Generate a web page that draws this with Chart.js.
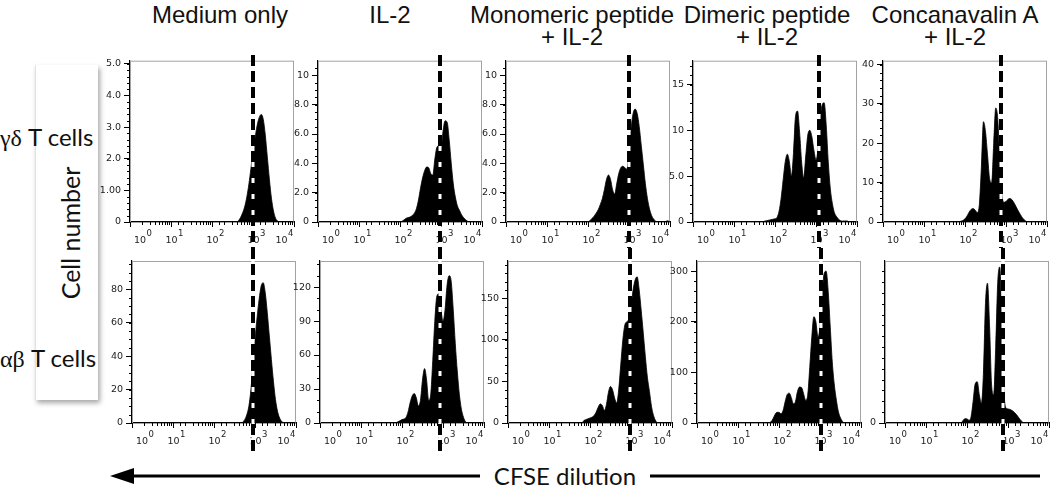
<!DOCTYPE html>
<html>
<head>
<meta charset="utf-8">
<script src="https://cdn.jsdelivr.net/npm/chart.js@4.4.1/dist/chart.umd.min.js"></script>
<style>
  body { margin: 0; width: 1050px; height: 490px; overflow: hidden; background: #fff; position: relative; }
  canvas { position: absolute; }
  .title { position: absolute; top: 4px; width: 240px; margin-left: -120px; text-align: center;
           font-family: "Liberation Sans", Arial, sans-serif; font-size: 24px; line-height: 22px; color: #111; }
  .cellbox { position: absolute; left: 35px; top: 65px; width: 62px; height: 335px; background: #fff;
             border-left: 1px solid #e2e2e2; box-shadow: 2px 3px 5px rgba(0,0,0,.35); }
  .rowlab { position: absolute; left: 0; font-family: Lato, "Open Sans", sans-serif; font-size: 24px; line-height: 28px; color: #111; white-space: nowrap; }
  .rowlab .gr { font-family: "Liberation Serif", serif; }
  .ylab { position: absolute; left: -30px; top: 219px; width: 200px; text-align: center; transform: rotate(-90deg);
          font-family: Lato, "Open Sans", sans-serif; font-size: 25px; line-height: 28px; color: #111; }
  .xlab { position: absolute; left: 480px; top: 461px; width: 170px; text-align: center; background: #fff;
          font-family: Lato, "Open Sans", sans-serif; font-size: 24px; line-height: 30px; color: #111; }
  svg { position: absolute; left: 0; top: 460px; }
</style>
</head>
<body>
<div class="cellbox"></div>
<svg width="1050" height="32">
  <line x1="128" y1="16" x2="1040" y2="16" stroke="#000" stroke-width="3"/>
  <polygon points="110,16 134,8 134,24" fill="#000"/>
</svg>
<script>
// CFSE channel (log bins) shared by all histograms
const cfse = [50, 56, 63, 71, 79, 89, 100, 112, 126, 141, 158, 178, 200, 224, 251, 282, 316, 355, 398, 447,
  501, 562, 631, 708, 794, 891, 1000, 1122, 1259, 1413, 1585, 1778, 1995, 2239, 2512, 2818, 3162, 3548,
  3981, 4467, 5012, 5623, 6310, 7079, 7943, 8913, 10000];

const conditions = [['Medium only'], ['IL-2'], ['Monomeric peptide', '+ IL-2'], ['Dimeric peptide', '+ IL-2'], ['Concanavalin A', '+ IL-2']];
const cellTypes = [['γδ', ' T cells'], ['αβ', ' T cells']];
const yTitle = 'Cell number';
const xTitle = 'CFSE dilution';

// gamma-delta T cells (top row)
const gdMedium = [0,0,0,0,0,0,0,0,0,0,0,0,0,0,0,0,0,0,
  0,0.05,0.15,0.3,0.5,0.8,1.2,1.7,2.2,2.65,3.05,3.3,3.4,3.25,2.75,2.05,1.35,0.75,0.35,0.12,0.03,
  0,0,0,0,0,0,0,0];
const gdIl2 = [0,0,0,0,0,0,
  0,0.05,0.15,0.25,0.3,0.35,0.45,0.6,0.9,1.5,2.3,3.0,3.5,3.75,3.7,3.3,3.2,4.3,5.1,5.2,
  4.9,6.2,6.9,6.8,5.6,4.0,2.6,1.7,1.1,0.8,0.5,0.3,0.15,0.05,0,
  0,0,0,0,0,0];
const gdMono = [0,0,0,0,0,0,
  0,0.1,0.25,0.4,0.6,0.85,1.2,1.6,2.2,2.9,3.2,2.9,2.2,1.9,2.6,3.3,3.7,3.8,3.7,3.6,
  4.8,6.4,7.4,7.7,7.4,6.5,5.2,3.9,2.6,1.6,0.9,0.45,0.2,0.05,0,
  0,0,0,0.05,0.08,0];
const gdDimer = [0,0.1,0.15,0.2,0.25,0.3,
  0.35,0.5,1.2,2.6,4.6,6.6,7.4,6.6,5.0,7.5,11.5,12.1,9.8,6.5,4.8,7.2,9.5,10.0,9.3,7.8,
  6.8,8.0,11.0,12.8,13.0,10.5,6.5,3.6,2.0,1.0,0.6,0.3,0.15,0.1,0.12,0.12,0.05,0,0,0,
  0];
const gdConA = [0,0,0,0,0.2,0.4,
  0.8,1.5,2.5,3.2,3.4,3.0,2.4,4.5,14,25.5,23,17,11,10,20,29,26,15,7,5,
  5.2,5.8,6.0,5.6,4.8,3.8,2.8,1.9,1.1,0.5,0.15,0,
  0,0,0,0,0,0,0,0,0];

// alpha-beta T cells (bottom row)
const abMedium = [0,0,0,0,0,0,0,0,0,0,0,0,0,0,0,0,0,0,0,
  0,0.5,2,5,10,20,35,50,63,74,82,84,78,66,52,38,25,14,7,3,1,0,
  0,0,0,0,0,0];
const abIl2 = [0,0,0,0,1,2,
  3,3.5,5,10,18,24,26,22,15,20,38,48,38,20,25,55,90,112,114,100,
  90,100,122,130,125,100,70,45,25,12,5,1,0,
  0,0,0,0,0,0,0,0];
const abMono = [0,0,0,3,4,5,
  6,7,9,13,19,23,21,15,22,37,44,40,30,24,40,70,100,118,122,125,
  140,160,172,176,160,135,108,80,55,38,20,9,3,0,
  0,0,0,0,0,0,0];
const abDimer = [0,0,2,8,16,21,
  21,18,25,42,56,59,50,38,42,62,71,70,58,45,55,110,170,210,200,170,
  190,250,295,300,260,190,120,75,45,22,10,3,0,
  0,0,0,0,0,0,0,0];
const abConA = [0,0,0,0,20,40,
  38,25,60,200,360,380,260,180,450,1100,1290,900,350,260,700,1300,1440,900,300,140,
  130,125,115,100,80,55,30,10,0,
  0,0,0,0,0,0,0,0,0,0,0,0];

// y axes
const gdYMax = [5.1, 11.0, 11.0, 17.6, 41];
const gdYStep = [1, 2, 2, 5, 10];
const gdYMinor = [0.2, 0.5, 0.5, 1, 2];
const gdYLabels = [['0','1.00','2.0','3.0','4.0','5.0'], ['0','2.0','4.0','6.0','8.0','10'], ['0','2.0','4.0','6.0','8.0','10'], ['0','5.0','10','15'], ['0','10','20','30','40']];
const abYMax = [97, 143, 195, 320, 1495];
const abYStep = [20, 30, 50, 100, 300];
const abYMinor = [5, 10, 10, 20, 100];
const abYLabels = [['0','20','40','60','80'], ['0','30','60','90','120'], ['0','50','100','150'], ['0','100','200','300'], ['0','300','600','900','1.2K']];

// dashed marker (undivided-cell position)
const gdCut = [975, 930, 1000, 1170, 770];
const abCut = [910, 860, 940, 1030, 760];

const titleX = [220, 390, 572, 767, 955];

const flowFrame = {
  id: 'flowFrame',
  beforeDatasetsDraw(chart) {
    const { ctx, chartArea: a } = chart;
    ctx.save();
    ctx.strokeStyle = '#a3a3a3';
    ctx.lineWidth = 1;
    ctx.strokeRect(a.left + 0.5, a.top + 0.5, a.width - 1, a.height);
    ctx.restore();
  },
  afterDatasetsDraw(chart, args, opts) {
    const { ctx, chartArea: a, scales: { x, y } } = chart;
    ctx.save();
    ctx.strokeStyle = '#000';
    ctx.lineWidth = 1;
    ctx.beginPath();
    const decades = [];
    x.ticks.forEach(t => {
      const px = Math.round(x.getPixelForValue(t.value)) + 0.5;
      const e = Math.log10(t.value);
      const major = Math.abs(e - Math.round(e)) < 1e-9;
      if (major) decades.push({ px, e: Math.round(e) });
      ctx.moveTo(px, a.bottom);
      ctx.lineTo(px, a.bottom + (major ? 5 : 3));
    });
    for (let k = 1; k * opts.minor < y.max; k++) {
      const py = Math.round(y.getPixelForValue(k * opts.minor)) + 0.5;
      ctx.moveTo(a.left - 3, py);
      ctx.lineTo(a.left, py);
    }
    ctx.stroke();
    // decade labels 10^n, kept inside the box like FlowJo does
    ctx.fillStyle = '#222';
    ctx.textBaseline = 'alphabetic';
    decades.forEach(d => {
      ctx.font = '9.5px "DejaVu Sans"';
      const w10 = ctx.measureText('10').width;
      ctx.font = '8.5px "DejaVu Sans"';
      const we = ctx.measureText(String(d.e)).width;
      let start = d.px - w10 / 2;
      if (start < a.left + 4) start = a.left + 4;
      if (start + w10 + we > a.right - 1) start = a.right - 1 - w10 - we;
      ctx.font = '9.5px "DejaVu Sans"';
      ctx.fillText('10', start, a.bottom + 21);
      ctx.font = '8.5px "DejaVu Sans"';
      ctx.fillText(String(d.e), start + w10 + 0.5, a.bottom + 14);
    });
    ctx.restore();
  }
};

const cutLine = {
  id: 'cutLine',
  afterDraw(chart, args, opts) {
    const ctx = chart.ctx;
    const px = Math.round(chart.scales.x.getPixelForValue(opts.value));
    ctx.save();
    ctx.beginPath();
    ctx.moveTo(px, opts.from);
    ctx.lineTo(px, chart.height - opts.to);
    ctx.lineWidth = 3;
    ctx.strokeStyle = '#fff';
    ctx.stroke();
    ctx.setLineDash([11, 5]);
    ctx.lineWidth = 4;
    ctx.strokeStyle = '#000';
    ctx.stroke();
    ctx.restore();
  }
};

const rows = [
  { top: 52, h: 196, padTop: 8, xH: 26, lefts: [96, 284, 472, 659, 849], from: 3, to: 0 },
  { top: 248, h: 210, padTop: 13, xH: 35, lefts: [98, 286, 474, 663, 851], from: 0, to: 2 }
];

function makePanel(row, col, counts, yMax, yStep, yMinor, yLabels, cut) {
  const cv = document.createElement('canvas');
  cv.width = 201;
  cv.height = row.h;
  cv.style.left = row.lefts[col] + 'px';
  cv.style.top = row.top + 'px';
  document.body.appendChild(cv);
  new Chart(cv, {
    type: 'line',
    data: {
      datasets: [{
        data: cfse.map((c, i) => ({ x: c, y: counts[i] })),
        fill: 'origin',
        backgroundColor: '#000',
        borderColor: '#000',
        borderWidth: 0.8,
        pointRadius: 0,
        cubicInterpolationMode: 'monotone'
      }]
    },
    options: {
      responsive: false,
      animation: false,
      layout: { padding: { top: row.padTop, right: 3, left: 0, bottom: 0 } },
      plugins: {
        legend: { display: false },
        tooltip: { enabled: false },
        flowFrame: { minor: yMinor },
        cutLine: { value: cut, from: row.from, to: row.to }
      },
      scales: {
        x: {
          type: 'logarithmic', min: 1, max: 10000,
          ticks: { display: false },
          grid: { display: false },
          border: { display: true, color: '#000', width: 1.2 },
          afterFit: s => { s.height = row.xH; }
        },
        y: {
          min: 0, max: yMax,
          ticks: {
            stepSize: yStep, autoSkip: false, includeBounds: false, padding: 3, color: '#222',
            font: { family: 'DejaVu Sans', size: 9.5 },
            callback: v => {
              const k = Math.round(v / yStep);
              return Math.abs(v - k * yStep) < 1e-6 && k < yLabels.length ? yLabels[k] : null;
            }
          },
          grid: { display: true, drawOnChartArea: false, drawTicks: true, tickLength: 6, color: '#000', lineWidth: 1 },
          border: { display: true, color: '#000', width: 1.2 },
          afterFit: s => { s.width = 34; }
        }
      }
    },
    plugins: [flowFrame, cutLine]
  });
}

const gdCounts = [gdMedium, gdIl2, gdMono, gdDimer, gdConA];
const abCounts = [abMedium, abIl2, abMono, abDimer, abConA];
for (let c = 0; c < 5; c++) {
  makePanel(rows[0], c, gdCounts[c], gdYMax[c], gdYStep[c], gdYMinor[c], gdYLabels[c], gdCut[c]);
  makePanel(rows[1], c, abCounts[c], abYMax[c], abYStep[c], abYMinor[c], abYLabels[c], abCut[c]);
}

// texts
conditions.forEach((lines, i) => {
  const d = document.createElement('div');
  d.className = 'title';
  d.style.left = titleX[i] + 'px';
  d.innerHTML = lines.join('<br>');
  document.body.appendChild(d);
});
[123, 344].forEach((top, i) => {
  const d = document.createElement('div');
  d.className = 'rowlab';
  d.style.top = top + 'px';
  d.innerHTML = '<span class="gr">' + cellTypes[i][0] + '</span>' + cellTypes[i][1];
  document.body.appendChild(d);
});
const yl = document.createElement('div');
yl.className = 'ylab';
yl.textContent = yTitle;
document.body.appendChild(yl);
const xl = document.createElement('div');
xl.className = 'xlab';
xl.textContent = xTitle;
document.body.appendChild(xl);
</script>
</body>
</html>
